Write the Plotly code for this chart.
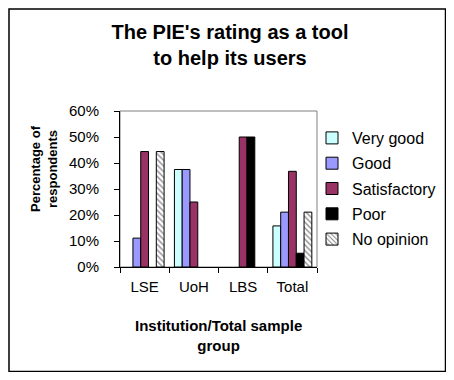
import plotly.graph_objects as go

categories = ["LSE", "UoH", "LBS", "Total"]
series_names = ["Very good", "Good", "Satisfactory", "Poor", "No opinion"]
very_good = [0.0, 0.375, 0.0, 0.158]
good = [0.111, 0.375, 0.0, 0.211]
satisfactory = [0.444, 0.25, 0.5, 0.368]
poor = [0.0, 0.0, 0.5, 0.053]
no_opinion = [0.444, 0.0, 0.0, 0.211]
y_ticks = [0, 0.1, 0.2, 0.3, 0.4, 0.5, 0.6]

series_values = [very_good, good, satisfactory, poor, no_opinion]
colors = ["#CCFFFF", "#9999FF", "#993366", "#000000", "#FFFFFF"]

# page body has an 8px margin, so the figure starts at (8, 8) on screen
OFF = 8
W, H = 438, 364
# plot area in screen coords: x 120..317, y 111..267
L, T = 120 - OFF, 111 - OFF
R, B = W - (317 - OFF), H - (267 - OFF)
pw, ph = W - L - R, H - T - B
FONT = "Arial, Liberation Sans, sans-serif"

def px_x(sx):
    return (sx - OFF - L) / pw

def px_y(sy):
    return (H - B - (sy - OFF)) / ph

fig = go.Figure()
for name, vals, col in zip(series_names, series_values, colors):
    marker = dict(color=col, line=dict(color="black", width=1))
    if name == "No opinion":
        marker["pattern"] = dict(shape="\\", fgcolor="black", bgcolor="white", size=4, solidity=0.3)
    fig.add_trace(go.Bar(x=categories, y=[v if v > 0 else None for v in vals],
                         name=name, marker=marker, legendgroup=name))

fig.update_layout(
    width=W, height=H,
    margin=dict(l=L, r=R, t=T, b=B, autoexpand=False),
    paper_bgcolor="white", plot_bgcolor="white",
    barmode="group", bargap=0.21, bargroupgap=0,
    font=dict(family=FONT, size=15, color="black"),
    title=dict(text="<b>The PIE's rating as a tool<br>to help its users</b>",
               x=(230 - OFF) / W, xanchor="center", xref="container",
               y=1 - 31 / H, yanchor="top", yref="container",
               font=dict(family=FONT, size=20, color="black")),
    showlegend=True,
    legend=dict(x=px_x(312), xanchor="left", y=px_y(121), yanchor="top",
                font=dict(family=FONT, size=16, color="black"),
                bgcolor="rgba(0,0,0,0)", borderwidth=0,
                traceorder="grouped", tracegroupgap=1.5, itemclick=False),
    xaxis=dict(showline=True, linecolor="black", linewidth=1, ticks="outside",
               tickson="boundaries", ticklen=5, tickcolor="black", showgrid=False,
               tickfont=dict(family=FONT, size=15, color="black"), ticklabelstandoff=6),
    yaxis=dict(range=[0, 0.6], tickvals=y_ticks, tickformat=".0%", showline=True,
               linecolor="black", linewidth=1, ticks="outside", ticklen=5,
               tickcolor="black", showgrid=False, zeroline=False,
               tickfont=dict(family=FONT, size=15, color="black"), ticklabelstandoff=12),
)

# plot area border (grey, top/right)
fig.add_shape(type="rect", xref="paper", yref="paper", x0=0, y0=0, x1=1, y1=1,
              line=dict(color="#808080", width=1), layer="below")
# outer chart frame (kept inside the figure canvas)
fig.add_shape(type="rect", xref="paper", yref="paper",
              x0=px_x(OFF + 1), x1=px_x(445.5), y0=px_y(371.5), y1=px_y(OFF + 1),
              line=dict(color="black", width=1.5))

fig.add_annotation(text="<b>Institution/Total sample<br>group</b>", xref="paper", yref="paper",
                   x=0.5, y=px_y(315), xanchor="center", yanchor="top", showarrow=False,
                   font=dict(family=FONT, size=15, color="black"))
fig.add_annotation(text="<b>Percentage of<br>respondents</b>", xref="paper", yref="paper",
                   x=px_x(44), y=px_y(169), xanchor="center", yanchor="middle", textangle=-90,
                   showarrow=False, font=dict(family=FONT, size=13, color="black"))

fig.write_html("out.html")
